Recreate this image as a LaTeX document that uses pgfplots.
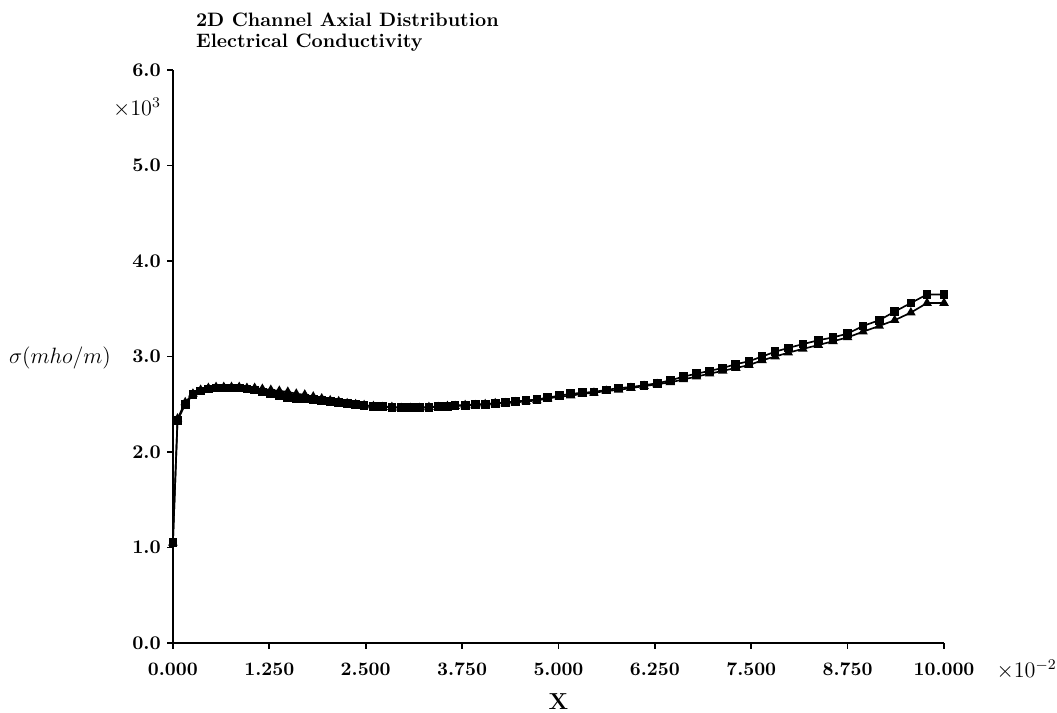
\documentclass[border=0pt]{standalone}
\usepackage{pgfplots}
\pgfplotsset{compat=1.18}
\usepackage{pgfplotstable}

% axial conductivity, two solutions (x in units of 1e-2, sigma in units of 1e3)
\pgfplotstableread{
x     s
0.00  1.05
0.06  2.33
0.16  2.50
0.26  2.60
0.36  2.64
0.46  2.66
0.56  2.67
0.66  2.67
0.76  2.67
0.86  2.67
0.96  2.66
1.06  2.65
1.16  2.63
1.27  2.61
1.38  2.59
1.49  2.57
1.60  2.56
1.71  2.56
1.82  2.55
1.93  2.54
2.04  2.53
2.15  2.52
2.26  2.51
2.37  2.50
2.48  2.49
2.60  2.48
2.72  2.48
2.84  2.47
2.96  2.47
3.08  2.47
3.20  2.47
3.32  2.47
3.44  2.48
3.56  2.48
3.66  2.49
3.79  2.49
3.92  2.50
4.05  2.50
4.18  2.51
4.31  2.52
4.44  2.53
4.58  2.54
4.72  2.55
4.86  2.57
5.01  2.59
5.16  2.61
5.31  2.62
5.46  2.63
5.62  2.65
5.78  2.67
5.94  2.68
6.11  2.70
6.28  2.72
6.45  2.75
6.62  2.79
6.79  2.82
6.96  2.85
7.13  2.88
7.30  2.92
7.47  2.95
7.64  3.00
7.81  3.05
7.98  3.09
8.17  3.13
8.37  3.17
8.56  3.20
8.75  3.24
8.95  3.32
9.16  3.38
9.36  3.47
9.57  3.56
9.78  3.65
10.00 3.65
}\squaredata

\pgfplotstableread{
x     s
0.00  1.05
0.06  2.35
0.16  2.52
0.26  2.61
0.36  2.65
0.46  2.67
0.56  2.68
0.66  2.68
0.76  2.68
0.86  2.68
0.96  2.67
1.06  2.67
1.16  2.66
1.27  2.65
1.38  2.64
1.49  2.63
1.60  2.61
1.71  2.60
1.82  2.58
1.93  2.56
2.04  2.54
2.15  2.53
2.26  2.51
2.37  2.50
2.48  2.49
2.60  2.48
2.72  2.47
2.84  2.47
2.96  2.46
3.08  2.46
3.20  2.46
3.32  2.47
3.44  2.47
3.56  2.48
3.66  2.48
3.79  2.49
3.92  2.49
4.05  2.50
4.18  2.51
4.31  2.51
4.44  2.52
4.58  2.53
4.72  2.54
4.86  2.56
5.01  2.58
5.16  2.59
5.31  2.61
5.46  2.62
5.62  2.64
5.78  2.65
5.94  2.67
6.11  2.69
6.28  2.71
6.45  2.73
6.62  2.76
6.79  2.79
6.96  2.82
7.13  2.85
7.30  2.88
7.47  2.91
7.64  2.96
7.81  3.00
7.98  3.04
8.17  3.08
8.37  3.12
8.56  3.16
8.75  3.20
8.95  3.26
9.16  3.32
9.36  3.38
9.57  3.46
9.78  3.56
10.00 3.56
}\triangledata

\begin{document}
\begin{tikzpicture}
\begin{axis}[
  name=main,
  scale only axis,
  width=417pt, height=310pt,
  xmin=0, xmax=10, ymin=0, ymax=6,
  axis x line*=bottom, axis y line*=left,
  axis line style={line width=1.1pt},
  tick align=outside,
  major tick length=3pt,
  tick style={line width=0.9pt, black},
  xtick={0,1.25,2.5,3.75,5,6.25,7.5,8.75,10},
  xticklabels={0.000,1.250,2.500,3.750,5.000,6.250,7.500,8.750,10.000},
  ytick={0,1,2,3,4,5,6},
  yticklabels={0.0,1.0,2.0,3.0,4.0,5.0,6.0},
  xticklabel style={font=\bfseries\fontsize{10.3}{12}\selectfont, yshift=-4pt},
  yticklabel style={font=\bfseries\fontsize{10.5}{12}\selectfont},
  clip=false,
]
\addplot[black, line width=0.9pt, mark=square*, mark size=1.9pt,
  mark options={solid, fill=black}] table[x=x, y=s] {\squaredata};
\addplot[black, line width=0.9pt, mark=triangle*, mark size=2.1pt,
  mark options={solid, fill=black}] table[x=x, y=s] {\triangledata};
\end{axis}

% titles and labels
\node[anchor=base west, font=\bfseries\fontsize{10.5}{12}\selectfont]
  at ([shift={(9pt,23.2pt)}]main.north west) {2D Channel Axial Distribution};
\node[anchor=base west, font=\bfseries\fontsize{10.5}{12}\selectfont]
  at ([shift={(9pt,11.9pt)}]main.north west) {Electrical Conductivity};
\node[anchor=base east, font=\fontsize{11.5}{13}\selectfont]
  at ([shift={(-3pt,-24.9pt)}]main.north west) {$\times10^{3}$};
\node[anchor=base west, font=\fontsize{11.5}{13}\selectfont]
  at ([shift={(24.9pt,-18.4pt)}]main.south east) {$\times10^{-2}$};
\node[anchor=base, font=\bfseries\fontsize{12.5}{14}\selectfont]
  at ([yshift=-35.7pt]main.south) {X};
\node[anchor=base east, font=\fontsize{12.5}{14}\selectfont]
  at ([shift={(-30pt,151.4pt)}]main.south west) {$\sigma(mho/m)$};

\pgfresetboundingbox
\path ([shift={(-93.5pt,-37.3pt)}]main.south west)
  rectangle ([shift={(61.1pt,37.8pt)}]main.north east);
\end{tikzpicture}
\end{document}
